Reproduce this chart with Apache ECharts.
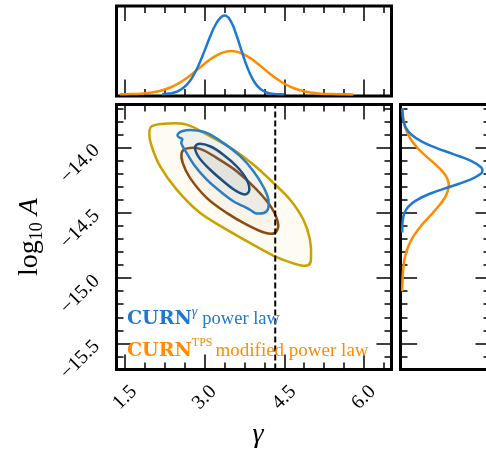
<!DOCTYPE html>
<html>
<head>
<meta charset="utf-8">
<script src="https://cdn.jsdelivr.net/npm/echarts@6.0.0/dist/echarts.min.js"></script>
<style>
  html, body { margin: 0; padding: 0; background: #fff; }
  #chart { width: 486px; height: 451px; }
</style>
</head>
<body>
<div id="chart"></div>
<script>
  // axis ranges and ticks
  var gammaMin = 1.34
  var gammaMax = 6.52
  var logAMin = -15.70
  var logAMax = -13.67
  var gammaMajor = [1.5, 3.0, 4.5, 6.0]
  var gammaMinor = [1.5, 1.875, 2.25, 2.625, 3.0, 3.375, 3.75, 4.125, 4.5, 4.875, 5.25, 5.625, 6.0, 6.375]
  var logAMajor = [-14.0, -14.5, -15.0, -15.5]
  var logAMinor = [-13.7, -13.8, -13.9, -14.0, -14.1, -14.2, -14.3, -14.4, -14.5, -14.6, -14.7, -14.8, -14.9,
    -15.0, -15.1, -15.2, -15.3, -15.4, -15.5, -15.6]
  var gammaRef = 4.33

  // marginal posterior of gamma (top panel)
  var gammaBlue = [2.2, 2.3, 2.4, 2.5, 2.6, 2.7, 2.8, 2.9, 3.0, 3.1, 3.2, 3.3, 3.38, 3.4, 3.5, 3.6, 3.7, 3.8, 3.9, 4.0, 4.1, 4.2, 4.3, 4.4, 4.5]
  var densBlue = [0.003, 0.009, 0.020, 0.042, 0.084, 0.152, 0.253, 0.391, 0.555, 0.726, 0.876, 0.974, 1.0, 0.998, 0.918, 0.750, 0.544, 0.350, 0.200, 0.102, 0.046, 0.018, 0.007, 0.002, 0.001]
  var gammaOrange = [1.4, 1.6, 1.8, 2.0, 2.2, 2.4, 2.6, 2.8, 3.0, 3.2, 3.4, 3.5, 3.6, 3.8, 4.0, 4.2, 4.4, 4.6, 4.8, 5.0, 5.2, 5.4, 5.6, 5.8]
  var densOrange = [0.001, 0.004, 0.010, 0.024, 0.053, 0.102, 0.179, 0.278, 0.389, 0.485, 0.542, 0.55, 0.542, 0.485, 0.389, 0.278, 0.179, 0.102, 0.053, 0.024, 0.010, 0.004, 0.001, 0.0003]

  // marginal posterior of log10 A (right panel)
  var logABlue = [-13.70, -13.75, -13.80, -13.85, -13.90, -13.95, -14.00, -14.05, -14.10, -14.15, -14.175, -14.20, -14.25, -14.30, -14.35, -14.40, -14.45, -14.50, -14.55, -14.60, -14.65]
  var densABlue = [0.002, 0.006, 0.018, 0.048, 0.114, 0.234, 0.415, 0.639, 0.851, 0.982, 1.0, 0.980, 0.830, 0.597, 0.363, 0.188, 0.082, 0.031, 0.010, 0.003, 0.001]
  var logAOrange = [-13.70, -13.75, -13.80, -13.85, -13.90, -13.95, -14.00, -14.05, -14.10, -14.15, -14.20, -14.25, -14.285, -14.30, -14.35, -14.40, -14.45, -14.50, -14.55, -14.60, -14.65, -14.70, -14.75, -14.80, -14.85, -14.90, -14.95, -15.00, -15.05, -15.10]
  var densAOrange = [0.005, 0.011, 0.022, 0.042, 0.075, 0.123, 0.188, 0.270, 0.361, 0.451, 0.525, 0.570, 0.58, 0.579, 0.558, 0.515, 0.453, 0.382, 0.307, 0.236, 0.174, 0.122, 0.082, 0.053, 0.032, 0.019, 0.011, 0.006, 0.003, 0.001]

  // 2D credible contours [gamma, log10 A]
  var tpsOuter = [[1.958, -13.900], [2.002, -13.837], [2.285, -13.816], [2.661, -13.824], [3.101, -13.913],
    [3.540, -14.015], [3.917, -14.130], [4.293, -14.270], [4.607, -14.398], [4.858, -14.551], [4.984, -14.704],
    [5.003, -14.858], [4.952, -14.901], [4.796, -14.901], [4.545, -14.870], [4.293, -14.827], [3.854, -14.730],
    [3.415, -14.628], [2.912, -14.500], [2.473, -14.322], [2.159, -14.143], [2.002, -13.990]]
  var tpsInner = [[2.567, -14.041], [2.649, -14.008], [2.912, -14.010], [3.226, -14.079], [3.603, -14.181],
    [3.980, -14.322], [4.262, -14.462], [4.387, -14.590], [4.325, -14.653], [4.137, -14.653], [3.792, -14.590],
    [3.415, -14.500], [3.038, -14.385], [2.724, -14.232], [2.587, -14.117]]
  var plOuter = [[2.49, -13.900], [2.57, -13.875], [2.79, -13.867], [3.04, -13.888], [3.35, -13.964],
    [3.67, -14.066], [3.92, -14.181], [4.10, -14.296], [4.20, -14.398], [4.17, -14.487], [3.98, -14.505],
    [3.86, -14.478], [3.79, -14.462], [3.68, -14.440], [3.54, -14.411], [3.29, -14.334], [3.04, -14.245],
    [2.82, -14.143], [2.66, -14.041], [2.56, -13.965], [2.58, -13.935], [2.51, -13.920]]
  var plInner = [[2.818, -14.003], [2.881, -13.972], [3.101, -13.990], [3.352, -14.054], [3.603, -14.143],
    [3.792, -14.245], [3.841, -14.327], [3.760, -14.360], [3.572, -14.327], [3.352, -14.258], [3.101, -14.168],
    [2.899, -14.079]]

  var blue = '#1f78d1'
  var orange = '#ff8c00'
  var serif = '"Liberation Serif", "DejaVu Serif", serif'

  function zip (xs, ys) {
    return xs.map(function (x, i) { return [x, ys[i]] })
  }

  function fmt (v) {
    return v.toFixed(1).replace('-', '\u2212')
  }

  function tickAxis (grid, pos, min, max, ticks, len, label) {
    return {
      type: 'value',
      gridIndex: grid,
      position: pos,
      min: min,
      max: max,
      axisLine: { show: false },
      splitLine: { show: false },
      axisTick: { show: true, inside: true, length: len, customValues: ticks, lineStyle: { color: '#000', width: 1.5 } },
      axisLabel: label || { show: false }
    }
  }

  function hiddenAxis (grid, min, max) {
    return { type: 'value', gridIndex: grid, min: min, max: max, show: false }
  }

  function contour (points, stroke, fill, z) {
    return {
      type: 'custom',
      xAxisIndex: 0,
      yAxisIndex: 0,
      z: z,
      clip: true,
      silent: true,
      data: [points[0]],
      renderItem: function (params, api) {
        return {
          type: 'polygon',
          shape: { points: points.map(function (p) { return api.coord(p) }), smooth: 0.35 },
          style: { fill: fill, stroke: stroke, lineWidth: 2.5 }
        }
      }
    }
  }

  var xLabel = {
    customValues: gammaMajor,
    rotate: 45,
    align: 'center',
    verticalAlign: 'middle',
    margin: 28,
    formatter: fmt,
    color: '#000',
    fontFamily: serif,
    fontSize: 20
  }
  var yLabel = {
    customValues: logAMajor,
    rotate: 45,
    margin: 20,
    formatter: fmt,
    color: '#000',
    fontFamily: serif,
    fontSize: 20
  }

  var frame = { show: true, borderColor: '#000', borderWidth: 3, backgroundColor: 'transparent', outerBoundsMode: 'none' }

  var option = {
    animation: false,
    backgroundColor: '#fff',
    grid: [
      Object.assign({ left: 116.5, top: 104.5, width: 275, height: 265 }, frame),
      Object.assign({ left: 116.5, top: 6, width: 275, height: 90 }, frame),
      Object.assign({ left: 400.5, top: 104.5, width: 90, height: 265 }, frame)
    ],
    xAxis: [
      tickAxis(0, 'bottom', gammaMin, gammaMax, gammaMajor, 15, xLabel),
      tickAxis(0, 'bottom', gammaMin, gammaMax, gammaMinor, 7),
      tickAxis(0, 'top', gammaMin, gammaMax, gammaMajor, 15),
      tickAxis(0, 'top', gammaMin, gammaMax, gammaMinor, 7),
      tickAxis(1, 'bottom', gammaMin, gammaMax, gammaMajor, 15),
      tickAxis(1, 'bottom', gammaMin, gammaMax, gammaMinor, 7),
      tickAxis(1, 'top', gammaMin, gammaMax, gammaMajor, 15),
      tickAxis(1, 'top', gammaMin, gammaMax, gammaMinor, 7),
      hiddenAxis(2, -0.02, 1.1)
    ],
    yAxis: [
      tickAxis(0, 'left', logAMin, logAMax, logAMajor, 15, yLabel),
      tickAxis(0, 'left', logAMin, logAMax, logAMinor, 7),
      tickAxis(0, 'right', logAMin, logAMax, logAMajor, 15),
      tickAxis(0, 'right', logAMin, logAMax, logAMinor, 7),
      hiddenAxis(1, -0.02, 1.12),
      tickAxis(2, 'left', logAMin, logAMax, logAMajor, 15),
      tickAxis(2, 'left', logAMin, logAMax, logAMinor, 7),
      tickAxis(2, 'right', logAMin, logAMax, logAMajor, 15),
      tickAxis(2, 'right', logAMin, logAMax, logAMinor, 7)
    ],
    series: [
      contour(tpsOuter, '#c9a100', 'rgba(250,225,160,0.14)', 2),
      contour(tpsInner, '#8c4a12', 'rgba(210,170,110,0.08)', 3),
      contour(plOuter, '#2b7dc4', 'rgba(120,160,200,0.10)', 4),
      contour(plInner, '#1d4e7e', 'rgba(60,80,110,0.05)', 5),
      {
        type: 'line',
        xAxisIndex: 0,
        yAxisIndex: 0,
        z: 6,
        symbol: 'none',
        data: [[gammaRef, logAMin], [gammaRef, logAMax]],
        lineStyle: { color: '#000', width: 2, type: [6, 3] }
      },
      {
        type: 'line',
        xAxisIndex: 4,
        yAxisIndex: 4,
        symbol: 'none',
        smooth: true,
        data: zip(gammaOrange, densOrange),
        lineStyle: { color: orange, width: 2.5 }
      },
      {
        type: 'line',
        xAxisIndex: 4,
        yAxisIndex: 4,
        symbol: 'none',
        smooth: true,
        data: zip(gammaBlue, densBlue),
        lineStyle: { color: blue, width: 2.5 }
      },
      {
        type: 'line',
        xAxisIndex: 8,
        yAxisIndex: 5,
        symbol: 'none',
        smooth: true,
        data: zip(densAOrange, logAOrange),
        lineStyle: { color: orange, width: 2.5 }
      },
      {
        type: 'line',
        xAxisIndex: 8,
        yAxisIndex: 5,
        symbol: 'none',
        smooth: true,
        data: zip(densABlue, logABlue),
        lineStyle: { color: blue, width: 2.5 }
      }
    ],
    graphic: [
      {
        type: 'text',
        left: 127,
        top: 305,
        z: 10,
        style: {
          text: '{b|CURN}{s|\u03b3}{n|power law}',
          rich: {
            b: { fill: blue, fontFamily: '"DejaVu Serif", serif', fontWeight: 'bold', fontSize: 19, lineHeight: 24, verticalAlign: 'bottom' },
            s: { fill: blue, fontFamily: serif, fontStyle: 'italic', fontSize: 14, lineHeight: 14, verticalAlign: 'top' },
            n: { fill: blue, fontFamily: serif, fontSize: 18.5, lineHeight: 24, verticalAlign: 'bottom', padding: [0, 0, 0, 5] }
          }
        }
      },
      {
        type: 'text',
        left: 127,
        top: 337,
        z: 10,
        style: {
          text: '{b|CURN}{s|TPS}{n|modified power law}',
          rich: {
            b: { fill: orange, fontFamily: '"DejaVu Serif", serif', fontWeight: 'bold', fontSize: 19, lineHeight: 24, verticalAlign: 'bottom' },
            s: { fill: orange, fontFamily: serif, fontSize: 12, lineHeight: 12, verticalAlign: 'top' },
            n: { fill: orange, fontFamily: serif, fontSize: 19, lineHeight: 24, verticalAlign: 'bottom', padding: [0, 0, 0, 3] }
          }
        }
      },
      {
        type: 'text',
        x: 258,
        y: 435,
        style: {
          text: '\u03b3',
          fill: '#000',
          fontFamily: serif,
          fontStyle: 'italic',
          fontSize: 28,
          align: 'center',
          verticalAlign: 'middle'
        }
      },
      {
        type: 'text',
        x: 30,
        y: 237,
        rotation: Math.PI / 2,
        style: {
          text: '{a|log}{s|10}{a| }{i|A}',
          align: 'center',
          verticalAlign: 'middle',
          rich: {
            a: { fill: '#000', fontFamily: serif, fontSize: 28, lineHeight: 32, verticalAlign: 'middle' },
            s: { fill: '#000', fontFamily: serif, fontSize: 18, lineHeight: 32, verticalAlign: 'bottom' },
            i: { fill: '#000', fontFamily: serif, fontStyle: 'italic', fontSize: 28, lineHeight: 32, verticalAlign: 'middle' }
          }
        }
      }
    ]
  }

  var chart = echarts.init(document.getElementById('chart'), null, { renderer: 'canvas' })
  chart.setOption(option)
</script>
</body>
</html>
